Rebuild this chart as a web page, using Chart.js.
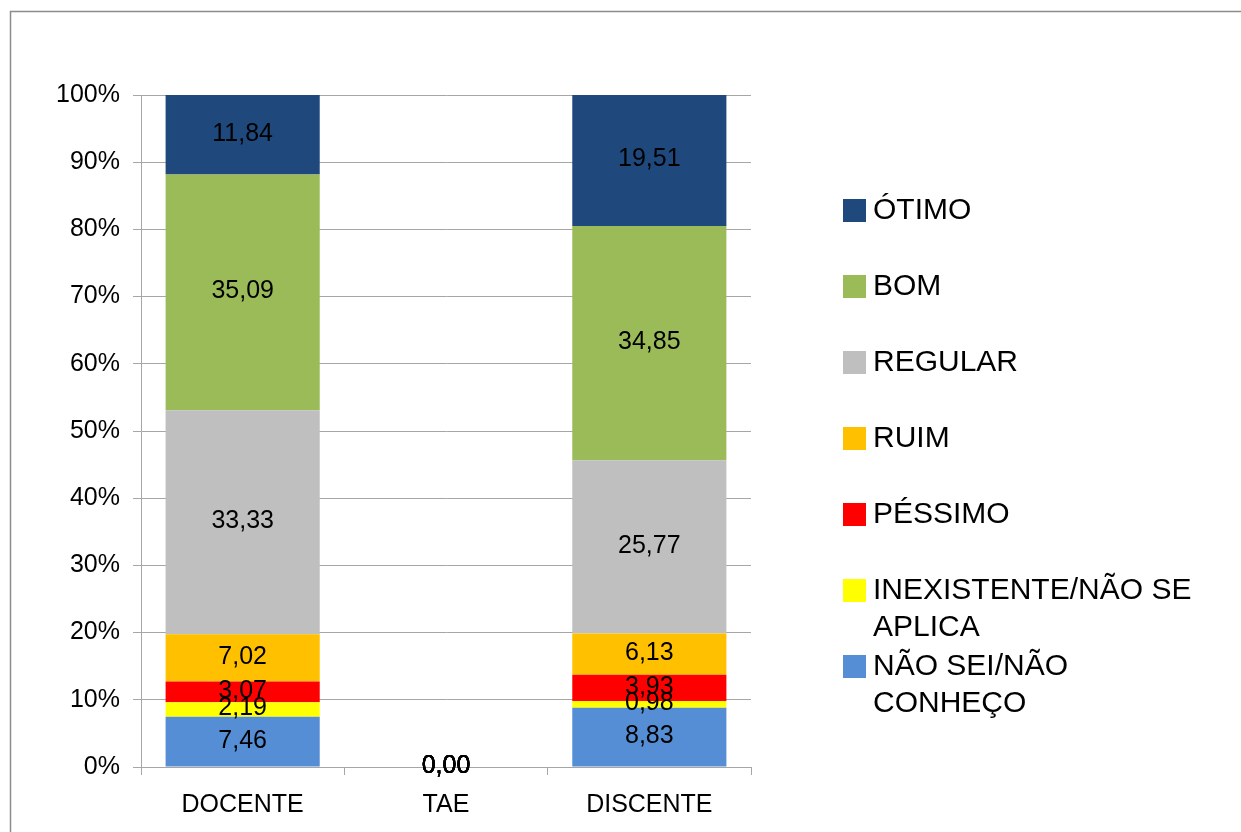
<!DOCTYPE html>
<html>
<head>
<meta charset="utf-8">
<script src="https://cdn.jsdelivr.net/npm/chart.js@4"></script>
<style>
    html, body { margin: 0; padding: 0; background: #fff; }
    #wrap { width: 1241px; height: 832px; position: relative; }
</style>
</head>
<body>
<div id="wrap"><canvas id="chart" width="1241" height="832"></canvas></div>
<script>
const CATEGORIES = ['DOCENTE', 'TAE', 'DISCENTE'];

// bottom to top of each stack
const SERIES_NAMES = ['NÃO SEI/NÃO CONHEÇO', 'INEXISTENTE/NÃO SE APLICA', 'PÉSSIMO', 'RUIM', 'REGULAR', 'BOM', 'ÓTIMO'];
const NAO_SEI = [7.46, 0, 8.83];
const INEXISTENTE = [2.19, 0, 0.98];
const PESSIMO = [3.07, 0, 3.93];
const RUIM = [7.02, 0, 6.13];
const REGULAR = [33.33, 0, 25.77];
const BOM = [35.09, 0, 34.85];
const OTIMO = [11.84, 0, 19.51];

const Y_TICKS = [0, 10, 20, 30, 40, 50, 60, 70, 80, 90, 100];

const COLORS = ['#558ED5', '#FFFF00', '#FF0000', '#FFC000', '#BFBFBF', '#9BBB59', '#1F497D'];
const FONT = '"Liberation Sans", Arial, sans-serif';
const GRID = '#a6a6a6';

function formatValue(v) {
    return v.toFixed(2).replace('.', ',');
}

const seriesValues = [NAO_SEI, INEXISTENTE, PESSIMO, RUIM, REGULAR, BOM, OTIMO];

// outer frame of the chart
const framePlugin = {
    id: 'frame',
    beforeDraw(chart) {
        const ctx = chart.ctx;
        ctx.save();
        ctx.strokeStyle = '#8c8c8c';
        ctx.lineWidth = 1.5;
        ctx.strokeRect(10.5, 11.5, 1400, 1000);
        ctx.restore();
    },
};

// value labels centred in each segment
const valueLabels = {
    id: 'valueLabels',
    afterDatasetsDraw(chart) {
        const ctx = chart.ctx;
        ctx.save();
        ctx.font = '25px ' + FONT;
        ctx.fillStyle = '#000';
        ctx.textAlign = 'center';
        ctx.textBaseline = 'middle';
        chart.data.datasets.forEach((ds, i) => {
            const meta = chart.getDatasetMeta(i);
            meta.data.forEach((bar, j) => {
                const y = (bar.y + bar.base) / 2;
                ctx.fillText(formatValue(ds.data[j]), bar.x, y - 1);
            });
        });
        ctx.restore();
    },
};

function wrapText(ctx, text, maxWidth) {
    const words = text.split(' ');
    const lines = [];
    let line = '';
    words.forEach((w) => {
        const test = line ? line + ' ' + w : w;
        if (ctx.measureText(test).width > maxWidth && line) {
            lines.push(line);
            line = w;
        } else {
            line = test;
        }
    });
    lines.push(line);
    return lines;
}

// legend on the right, top item = last dataset
const sideLegend = {
    id: 'sideLegend',
    afterDraw(chart) {
        const ctx = chart.ctx;
        const datasets = chart.data.datasets.slice().reverse();
        ctx.save();
        ctx.font = '30px ' + FONT;
        ctx.textBaseline = 'alphabetic';
        ctx.textAlign = 'left';
        datasets.forEach((ds, i) => {
            const top = 199 + i * 76;
            ctx.fillStyle = ds.backgroundColor;
            ctx.fillRect(843, top, 23, 23);
            ctx.fillStyle = '#000';
            const lines = wrapText(ctx, ds.label, 340);
            lines.forEach((ln, k) => {
                ctx.fillText(ln, 873, top + 20 + k * 37);
            });
        });
        ctx.restore();
    },
};

new Chart(document.getElementById('chart'), {
    type: 'bar',
    data: {
        labels: CATEGORIES,
        datasets: SERIES_NAMES.map((name, i) => ({
            label: name,
            data: seriesValues[i],
            backgroundColor: COLORS[i],
            borderWidth: 0,
            barPercentage: 0.758,
            categoryPercentage: 1,
        })),
    },
    options: {
        responsive: false,
        animation: false,
        events: [],
        layout: { padding: { left: 0, right: 490, top: 95, bottom: 0 } },
        plugins: {
            legend: { display: false },
            tooltip: { enabled: false },
        },
        scales: {
            x: {
                stacked: true,
                grid: {
                    offset: true,
                    drawOnChartArea: false,
                    drawTicks: true,
                    tickLength: 8,
                    color: GRID,
                },
                border: { color: GRID, width: 1 },
                ticks: {
                    color: '#000',
                    font: { family: FONT, size: 25 },
                    padding: 15,
                },
                afterFit: (scale) => { scale.height = 65; },
            },
            y: {
                stacked: true,
                min: 0,
                max: 100,
                afterBuildTicks: (scale) => {
                    scale.ticks = Y_TICKS.map((v) => ({ value: v }));
                },
                grid: { color: GRID, tickLength: 8 },
                border: { color: GRID, width: 1 },
                ticks: {
                    color: '#000',
                    font: { family: FONT, size: 25 },
                    padding: 13,
                    callback: (v) => v + '%',
                },
                afterFit: (scale) => { scale.width = 141; },
            },
        },
    },
    plugins: [framePlugin, valueLabels, sideLegend],
});
</script>
</body>
</html>
